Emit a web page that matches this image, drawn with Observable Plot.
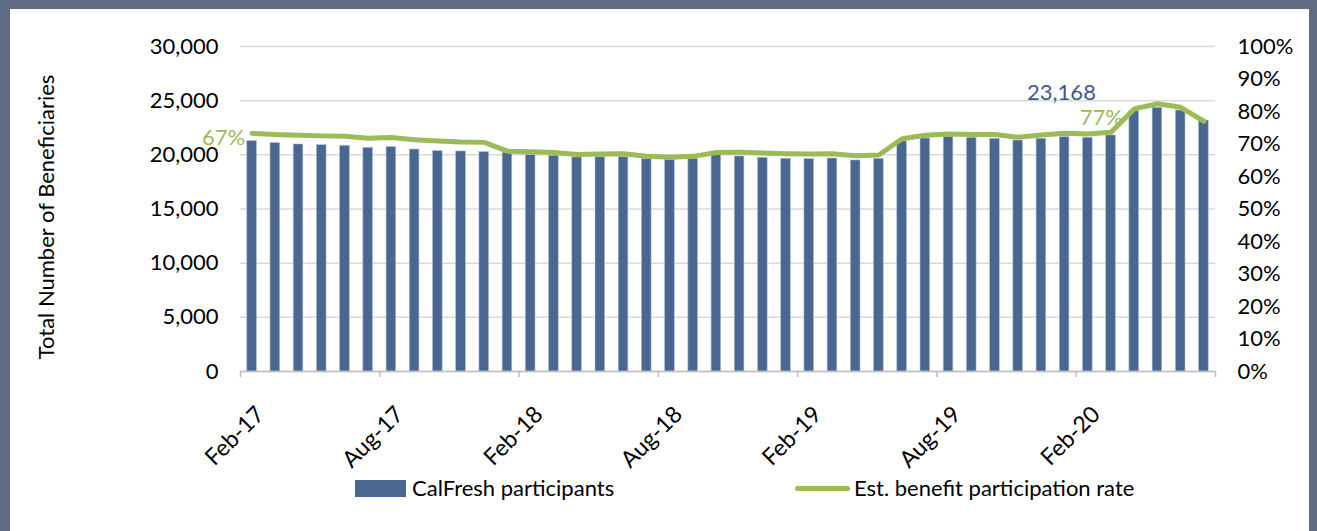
<!DOCTYPE html>
<html>
<head>
<meta charset="utf-8">
<script src="https://cdn.jsdelivr.net/npm/d3@7"></script>
<script src="https://cdn.jsdelivr.net/npm/@observablehq/plot@0.6"></script>
<style>
  html, body { margin: 0; padding: 0; background: #fff; }
  #frame {
    position: absolute; left: 0; top: 0; width: 1317px; height: 531px;
    box-sizing: border-box; background: #fff;
    border-top: 9px solid #5f6b80; border-left: 10px solid #5f6b80; border-right: 8px solid #5f6b80;
    font-family: Lato, "Open Sans", sans-serif; overflow: hidden;
  }
  #chart { position: absolute; left: 0; top: 0; }
  .leg { position: absolute; font-size: 22px; color: #000; line-height: 22px; white-space: nowrap; }
</style>
</head>
<body>
<div id="frame">
  <div id="chart"></div>
  <div id="legend"></div>
</div>
<script>
// ---------------- data ----------------
const months = ["Feb-17","Mar-17","Apr-17","May-17","Jun-17","Jul-17","Aug-17","Sep-17","Oct-17","Nov-17","Dec-17",
  "Jan-18","Feb-18","Mar-18","Apr-18","May-18","Jun-18","Jul-18","Aug-18","Sep-18","Oct-18","Nov-18","Dec-18",
  "Jan-19","Feb-19","Mar-19","Apr-19","May-19","Jun-19","Jul-19","Aug-19","Sep-19","Oct-19","Nov-19","Dec-19",
  "Jan-20","Feb-20","Mar-20","Apr-20","May-20","Jun-20","Jul-20"];
const participants = [21260,21075,20955,20890,20830,20645,20710,20490,20340,20310,20245,
  20190,19970,19910,19755,19785,19785,19600,19540,19630,19970,19845,19725,
  19630,19600,19660,19480,19630,21230,21510,21630,21570,21480,21320,21480,
  21630,21570,21785,24030,24340,24090,23168];
const rates = [73.3,72.9,72.7,72.5,72.4,71.8,72.0,71.3,70.9,70.6,70.5,
  67.8,67.6,67.4,66.8,66.9,67.0,66.2,65.9,66.2,67.4,67.5,67.2,
  67.0,66.9,67.0,66.4,66.6,71.6,72.7,73.1,72.9,72.9,72.1,72.8,
  73.3,73.1,73.6,80.8,82.4,81.3,77.0];
const tickMonths = ["Feb-17","Aug-17","Feb-18","Aug-18","Feb-19","Aug-19","Feb-20"];
const leftTicks = [0,5000,10000,15000,20000,25000,30000];
const rightTicks = [0,10,20,30,40,50,60,70,80,90,100];
const seriesNames = ["CalFresh participants","Est. benefit participation rate"];
const yTitle = "Total Number of Beneficiaries";
const annotations = {first: "67%", lastRate: "77%", lastValue: "23,168"};

// ---------------- chart ----------------
const barColor = "#4a6791";
const lineColor = "#9bbb59";
const yMax = 30000, rMax = 100, k = yMax / rMax;
const FS = 22;

const data = months.map((m, i) => ({i, month: m, participants: participants[i], rate: rates[i]}));
const xTicks = [...tickMonths.map(m => months.indexOf(m)), months.length];
const first = data[0], last = data[data.length - 1];

const chart = Plot.plot({
  width: 1299, height: 460,
  marginLeft: 230, marginRight: 94, marginTop: 37, marginBottom: 98,
  style: {fontFamily: "Lato, 'Open Sans', sans-serif", fontSize: FS + "px", color: "#000", background: "transparent", overflow: "visible"},
  x: {domain: [0, months.length], axis: null},
  y: {domain: [0, yMax], axis: null},
  marks: [
    Plot.gridY(leftTicks, {stroke: "#d9d9d9", strokeOpacity: 1, strokeWidth: 1.5}),
    Plot.rectY(data, {x1: "i", x2: d => d.i + 1, y: "participants", insetLeft: 6.8, insetRight: 6.8,
      fill: barColor, stroke: "#a9b8cf", strokeWidth: 0.6}),
    Plot.ruleY([0], {stroke: "#bfbfbf", strokeWidth: 1.5}),
    Plot.axisX({ticks: xTicks, tickSize: 6, stroke: "#bfbfbf", strokeWidth: 1.5, tickFormat: () => "", label: null}),
    Plot.text(tickMonths, {x: m => months.indexOf(m), y: 0, text: d => d, rotate: -45, textAnchor: "end",
      dx: 20, dy: 39, fontSize: FS + 1, fill: "#000"}),
    Plot.axisY({anchor: "left", ticks: leftTicks, tickFormat: d3.format(","), tickSize: 0, tickPadding: 22,
      label: null, fontSize: FS}),
    Plot.text([yTitle], {frameAnchor: "left", text: d => d, rotate: -90, textAnchor: "middle",
      dx: -194, dy: 8, fontSize: FS, fill: "#000"}),
    Plot.axisY({anchor: "right", ticks: rightTicks.map(r => r * k), tickFormat: d => Math.round(d / k) + "%",
      tickSize: 0, tickPadding: 22, label: null, fontSize: FS}),
    Plot.line(data, {x: d => d.i + 0.5, y: d => d.rate * k, stroke: lineColor, strokeWidth: 5,
      strokeLinejoin: "round", strokeLinecap: "round"}),
    Plot.text([first], {x: d => d.i + 0.5, y: d => d.rate * k, text: () => annotations.first,
      textAnchor: "end", dx: -7, dy: 5, fill: lineColor, fontSize: FS}),
    Plot.text([last], {x: d => d.i + 0.5, y: d => d.rate * k, text: () => annotations.lastRate,
      textAnchor: "end", dx: -81, dy: -3, fill: lineColor, fontSize: FS}),
    Plot.text([last], {x: d => d.i + 0.5, y: d => d.participants, text: () => annotations.lastValue,
      textAnchor: "end", dx: -108, dy: -28, fill: "#3c5a8d", fontSize: FS})
  ]
});
document.getElementById("chart").appendChild(chart);

// ---------------- legend ----------------
const legend = document.getElementById("legend");
legend.innerHTML = `
  <div style="position:absolute;left:345px;top:471px;width:51px;height:17px;background:${barColor}"></div>
  <div class="leg" style="left:402px;top:468px">${seriesNames[0]}</div>
  <div style="position:absolute;left:785px;top:477px;width:55px;height:5px;border-radius:3px;background:${lineColor}"></div>
  <div class="leg" style="left:844px;top:468px">${seriesNames[1]}</div>
`;
</script>
</body>
</html>
